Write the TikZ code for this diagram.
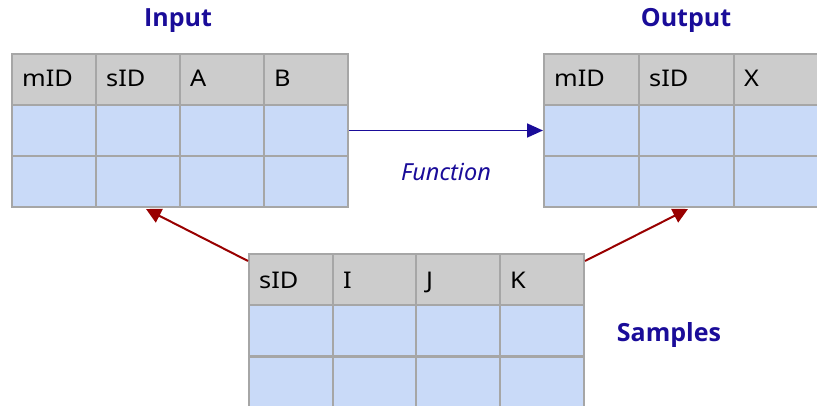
\documentclass[tikz,border=0pt]{standalone}
\usepackage{fontspec}
\setmainfont{Noto Sans}
\newfontfamily\hdrfont[FakeStretch=1.1]{Noto Sans}
\newfontfamily\titlefont{Open Sans}
\usetikzlibrary{arrows.meta,calc}
\definecolor{bordergray}{HTML}{A6A6A6}
\definecolor{hdrgray}{HTML}{CCCCCC}
\definecolor{cellblue}{HTML}{C9DAF8}
\definecolor{navy}{HTML}{1A0C99}
\definecolor{arrowred}{HTML}{990000}
\tikzset{
  tcell/.style={draw=bordergray, line width=2pt, minimum height=51pt, inner sep=0pt, anchor=north west},
  hcell/.style={tcell, fill=hdrgray},
  bcell/.style={tcell, fill=cellblue},
  htext/.style={anchor=base west, inner sep=0pt, font=\hdrfont\fontsize{23}{27}\selectfont, text=black},
  title/.style={anchor=base, inner sep=0pt, text=navy, font=\titlefont\bfseries\fontsize{25}{30}\selectfont},
  flabel/.style={anchor=base, inner sep=0pt, text=navy, font=\itshape\fontsize{23.5}{28}\selectfont},
  bluearrow/.style={draw=navy, line width=1.8pt, -{Triangle[length=16pt,width=14pt]}},
  redarrow/.style={draw=arrowred, line width=2pt, -{Triangle[length=15pt,width=15pt]}}
}
\begin{document}
\begin{tikzpicture}[x=1pt,y=-1pt]
\useasboundingbox (0,0) rectangle (817,406);
\clip (0,0) rectangle (817,406);
% Input table
\foreach \i/\t [count=\c] in {11/mID,95/sID,179/A,263/B}{
  \node[hcell, minimum width=84pt] (in-h\c) at (\i,53) {};
  \node[bcell, minimum width=84pt] (in-r1c\c) at (\i,104) {};
  \node[bcell, minimum width=84pt] (in-r2c\c) at (\i,155) {};
  \node[htext] (in-t\c) at ($(in-h\c.north west)+(11,34)$) {\t};
}
% Output table
\foreach \i/\t [count=\c] in {543/mID,638/sID,733/X}{
  \node[hcell, minimum width=95pt] (out-h\c) at (\i,53) {};
  \node[bcell, minimum width=95pt] (out-r1c\c) at (\i,104) {};
  \node[bcell, minimum width=95pt] (out-r2c\c) at (\i,155) {};
  \node[htext] (out-t\c) at ($(out-h\c.north west)+(11,34)$) {\t};
}
% Samples table
\foreach \i/\t [count=\c] in {248/sID,332/I,415/J,499/K}{
  \node[hcell, minimum width=84pt] (sm-h\c) at (\i,253) {};
  \node[bcell, minimum width=84pt] (sm-r1c\c) at (\i,304) {};
  \node[bcell, minimum width=84pt] (sm-r2c\c) at (\i,356) {};
  \node[htext] (sm-t\c) at ($(sm-h\c.north west)+(11,35)$) {\t};
}
% Titles
\node[title] (input) at (178,27) {Input};
\node[title] (output) at (686,27) {Output};
\node[title] (samples) at (669,341) {Samples};
\node[flabel] (function) at (446,181) {Function};
% Arrows
\draw[bluearrow] (in-r1c4.east) -- (out-r1c1.west);
\coordinate (s1) at ($(sm-h1.north west)+(0,8)$);
\coordinate (t1) at ($(in-r2c2.south west)+(51,1)$);
\coordinate (s2) at ($(sm-h4.north east)+(0,8)$);
\coordinate (t2) at ($(out-r2c2.south west)+(50,1)$);
\draw[redarrow] (s1) -- (t1);
\draw[redarrow] (s2) -- (t2);
\end{tikzpicture}
\end{document}
